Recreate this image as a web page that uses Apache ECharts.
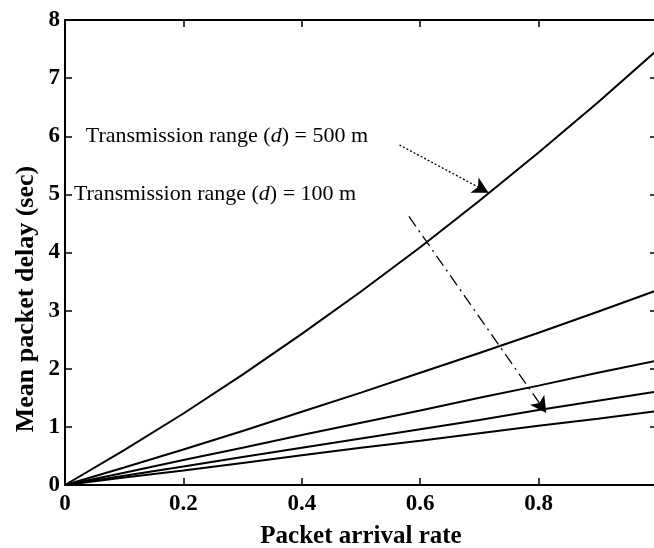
<!DOCTYPE html>
<html>
<head>
<meta charset="utf-8">
<title>Mean packet delay vs packet arrival rate</title>
<script src="https://cdn.jsdelivr.net/npm/echarts@6/dist/echarts.min.js"></script>
<style>
  html, body { margin: 0; padding: 0; background: #fff; }
  #chart { width: 654px; height: 548px; }
</style>
</head>
<body>
<div id="chart"></div>
<script>
// Packet arrival rate (x values shared by every curve)
const arrivalRate = [0, 0.1, 0.2, 0.3, 0.4, 0.5, 0.6, 0.7, 0.8, 0.9, 1.0];

// Mean packet delay (sec), one curve per transmission range, largest first
const delayD500 = [0, 0.60, 1.23, 1.90, 2.60, 3.33, 4.09, 4.89, 5.72, 6.58, 7.48];
const delayB    = [0, 0.30, 0.61, 0.93, 1.26, 1.59, 1.93, 2.27, 2.62, 2.98, 3.35];
const delayC    = [0, 0.21, 0.43, 0.64, 0.86, 1.07, 1.28, 1.50, 1.71, 1.93, 2.14];
const delayD    = [0, 0.16, 0.32, 0.48, 0.64, 0.80, 0.96, 1.12, 1.29, 1.45, 1.61];
const delayD100 = [0, 0.13, 0.25, 0.38, 0.51, 0.64, 0.76, 0.89, 1.02, 1.14, 1.27];

const curves = [delayD500, delayB, delayC, delayD, delayD100];

// Axis ticks
const xTicks = [0, 0.2, 0.4, 0.6, 0.8];
const yTicks = [0, 1, 2, 3, 4, 5, 6, 7, 8];

// Annotation labels: text and anchor (x, delay) in data coordinates
const label500 = { text: 'Transmission range (d) = 500 m', at: [0.035, 6.0] };
const label100 = { text: 'Transmission range (d) = 100 m', at: [0.015, 5.0] };

// Annotation arrows: [from, to] in data coordinates
const arrow500 = [[0.565, 5.85], [0.7155, 5.03]];
const arrow100 = [[0.581, 4.62], [0.813, 1.24]];

const SERIF = '"Liberation Serif", "DejaVu Serif", serif';

const chart = echarts.init(document.getElementById('chart'), null, { renderer: 'canvas' });

const axisLine = { show: true, onZero: false, lineStyle: { color: '#000', width: 2 } };
const axisTickIn = { show: true, inside: true, length: 7, lineStyle: { color: '#000', width: 1.5 } };

const lineSeries = curves.map((vals, i) => ({
  type: 'line',
  name: 'curve' + i,
  data: arrivalRate.map((x, k) => [x, vals[k]]),
  showSymbol: false,
  smooth: false,
  lineStyle: { color: '#000', width: 2 },
  silent: true,
  z: 3
}));

function arrowSeries(pts, dashType) {
  return {
    type: 'line',
    data: [],
    silent: true,
    markLine: {
      silent: true,
      symbol: ['none', 'arrow'],
      symbolSize: [13, 16],
      label: { show: false },
      lineStyle: { color: '#000', width: 1.3, type: dashType },
      data: [[{ coord: pts[0] }, { coord: pts[1] }]]
    }
  };
}

// "(d)" is drawn with an italic d
function richLabel(txt) {
  const parts = txt.split('(d)');
  return '{n|' + parts[0] + '(}{i|d}{n|)' + parts[1] + '}';
}
const richStyles = {
  n: { fontFamily: SERIF, fontSize: 22, fill: '#000' },
  i: { fontFamily: SERIF, fontSize: 22, fontStyle: 'italic', fill: '#000' }
};

const option = {
  animation: false,
  backgroundColor: '#fff',
  grid: { left: 65, right: -3, top: 20, bottom: 63, containLabel: false, outerBoundsMode: 'none' },
  xAxis: [
    {
      type: 'value', min: 0, max: 1, interval: 0.2, position: 'bottom',
      name: 'Packet arrival rate', nameLocation: 'middle', nameGap: 39,
      nameTextStyle: { fontFamily: SERIF, fontWeight: 'bold', fontSize: 25, color: '#000' },
      axisLine: axisLine, axisTick: axisTickIn,
      axisLabel: {
        fontFamily: SERIF, fontWeight: 'bold', fontSize: 23, color: '#000', margin: 8,
        formatter: v => (xTicks.some(t => Math.abs(t - v) < 1e-9) ? String(+v.toFixed(1)) : '')
      },
      splitLine: { show: false }
    },
    {
      type: 'value', min: 0, max: 1, interval: 0.2, position: 'top',
      axisLine: axisLine, axisTick: axisTickIn, axisLabel: { show: false }, splitLine: { show: false }
    }
  ],
  yAxis: [
    {
      type: 'value', min: 0, max: 8, interval: 1, position: 'left',
      axisLine: axisLine, axisTick: axisTickIn,
      axisLabel: {
        fontFamily: SERIF, fontWeight: 'bold', fontSize: 23, color: '#000', margin: 5,
        formatter: v => (yTicks.includes(v) ? String(v) : '')
      },
      splitLine: { show: false }
    },
    {
      type: 'value', min: 0, max: 8, interval: 1, position: 'right',
      axisLine: axisLine, axisTick: axisTickIn, axisLabel: { show: false }, splitLine: { show: false }
    }
  ],
  series: lineSeries.concat([
    arrowSeries(arrow500, [2, 2]),
    arrowSeries(arrow100, [12, 5, 2, 5])
  ])
};

chart.setOption(option);

// Axis title and annotation labels, placed from data coordinates
const yMid = chart.convertToPixel({ gridIndex: 0 }, [0, 3.2]);
const p500 = chart.convertToPixel({ gridIndex: 0 }, label500.at);
const p100 = chart.convertToPixel({ gridIndex: 0 }, label100.at);

chart.setOption({
  graphic: [
    {
      type: 'text', x: 26, y: yMid[1], rotation: Math.PI / 2, silent: true,
      style: {
        text: 'Mean packet delay (sec)', fontFamily: SERIF, fontWeight: 'bold', fontSize: 26,
        fill: '#000', align: 'center', verticalAlign: 'middle'
      }
    },
    {
      type: 'text', x: p500[0], y: p500[1], silent: true,
      style: { text: richLabel(label500.text), rich: richStyles, verticalAlign: 'middle' }
    },
    {
      type: 'text', x: p100[0], y: p100[1], silent: true,
      style: { text: richLabel(label100.text), rich: richStyles, verticalAlign: 'middle' }
    }
  ]
});
</script>
</body>
</html>
